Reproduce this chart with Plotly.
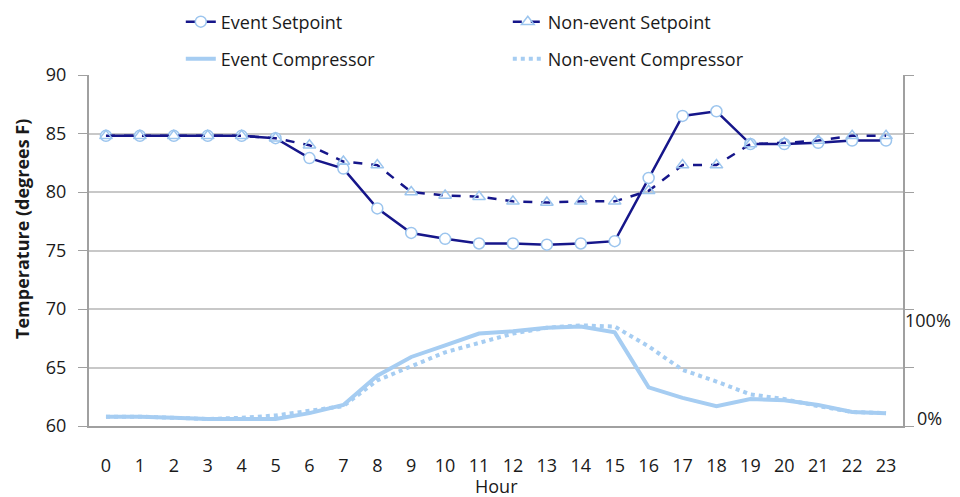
import plotly.graph_objects as go

hours = list(range(24))
hour_labels = [str(h) for h in hours]

event_setpoint = [84.8, 84.8, 84.8, 84.8, 84.8, 84.6, 82.9, 82.0, 78.6, 76.5, 76.0, 75.6,
                  75.6, 75.5, 75.6, 75.8, 81.2, 86.5, 86.9, 84.1, 84.1, 84.2, 84.4, 84.4]
nonevent_setpoint = [84.8, 84.8, 84.8, 84.8, 84.8, 84.6, 84.0, 82.6, 82.3, 80.0, 79.7, 79.6,
                     79.2, 79.1, 79.2, 79.2, 80.1, 82.3, 82.3, 84.1, 84.2, 84.4, 84.8, 84.8]
# compressor duty, percent (secondary axis)
event_compressor = [8, 8, 7, 6, 6, 6, 11, 18, 43, 59, 69, 79,
                    81, 84, 85, 80, 33, 24, 17, 23, 22, 18, 12, 11]
nonevent_compressor = [8, 8, 7, 6, 7, 9, 13, 17, 39, 51, 63, 71,
                       79, 84, 86, 85, 68, 48, 38, 27, 23, 17, 12, 11]

NAVY = "#16168A"
LIGHT = "#A6CDF2"
MARK = "#9CC5EE"

fig = go.Figure()
fig.add_trace(go.Scatter(x=hours, y=event_setpoint, name="Event Setpoint", mode="lines+markers",
                         line=dict(color=NAVY, width=2.5),
                         marker=dict(symbol="circle", size=11, color="white", line=dict(color=MARK, width=1.5)),
                         legend="legend"))
fig.add_trace(go.Scatter(x=hours, y=nonevent_setpoint, name="Non-event Setpoint", mode="lines+markers",
                         line=dict(color=NAVY, width=2.5, dash="dash"),
                         marker=dict(symbol="triangle-up-open", size=11, color=MARK, line=dict(color=MARK, width=1.5)),
                         legend="legend"))
fig.add_trace(go.Scatter(x=hours, y=event_compressor, name="Event Compressor", mode="lines",
                         line=dict(color=LIGHT, width=4), yaxis="y2", legend="legend2"))
fig.add_trace(go.Scatter(x=hours, y=nonevent_compressor, name="Non-event Compressor", mode="lines",
                         line=dict(color=LIGHT, width=4, dash="dot"), yaxis="y2", legend="legend2"))

FONT = "Open Sans"
fig.update_layout(
    width=960, height=497,
    margin=dict(l=81, r=65, t=67, b=79, autoexpand=False),
    paper_bgcolor="white", plot_bgcolor="white",
    font=dict(family=FONT, size=18, color="#1a1a1a"),
    xaxis=dict(range=[-0.5, 23.5], tickvals=hours, ticktext=hour_labels, showgrid=False,
               showline=True, linecolor="#A0A0A0", linewidth=2, ticks="", ticklabelstandoff=22,
               zeroline=False),
    yaxis=dict(range=[60, 90], dtick=5, showgrid=True, gridcolor="#C8C8C8", gridwidth=1.5,
               showline=True, linecolor="#A0A0A0", linewidth=2, ticks="outside", ticklen=9,
               tickcolor="#A0A0A0", ticklabelstandoff=8, zeroline=False),
    yaxis2=dict(overlaying="y", side="right", range=[0, 300], dtick=50, showgrid=False,
                showticklabels=False, showline=True, linecolor="#A0A0A0", linewidth=2,
                ticks="outside", ticklen=9, tickcolor="#A0A0A0", zeroline=False),
    legend=dict(orientation="h", xref="container", x=0.18, xanchor="left",
                yref="container", y=1 - 14 / 497, yanchor="middle",
                entrywidth=282, font=dict(size=18), bgcolor="rgba(0,0,0,0)"),
    legend2=dict(orientation="h", xref="container", x=0.18, xanchor="left",
                 yref="container", y=1 - 51 / 497, yanchor="middle",
                 entrywidth=282, font=dict(size=18), bgcolor="rgba(0,0,0,0)"),
    showlegend=True,
)
# axis titles
fig.add_annotation(text="<b>Temperature (degrees F)</b>", textangle=-90, xref="paper", yref="paper",
                   x=-0.0823, y=0.5613, xanchor="center", yanchor="middle", showarrow=False,
                   font=dict(size=18))
fig.add_annotation(text="Hour", xref="paper", yref="paper", x=0.5, y=-0.172,
                   xanchor="center", yanchor="middle", showarrow=False, font=dict(size=18))
# secondary axis labels
fig.add_annotation(text="100%", xref="paper", x=1.0, xanchor="left", xshift=0, yref="paper", y=0.302,
                   yanchor="middle", showarrow=False, font=dict(size=18))
fig.add_annotation(text="0%", xref="paper", x=1.032, xanchor="center", yref="paper", y=0.0228,
                   yanchor="middle", showarrow=False, font=dict(size=18))

fig.write_html("out.html")
